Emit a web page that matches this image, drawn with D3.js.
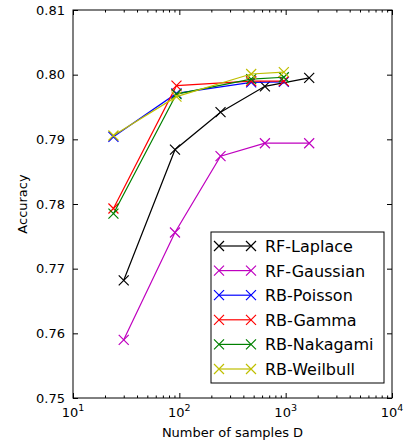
<!DOCTYPE html>
<html>
<head>
<meta charset="utf-8">
<script src="https://cdn.jsdelivr.net/npm/d3@7"></script>
<style>
  body { margin: 0; background: #fff; }
  svg text { font-family: "DejaVu Sans", sans-serif; }
</style>
</head>
<body>
<svg id="chart"></svg>
<script>
// data
const rfSamples = [30, 91, 244, 638, 1664];
const rbSamples = [24, 94, 474, 961];

const rfLaplace = [0.7682, 0.7884, 0.7942, 0.7982, 0.7995];
const rfGaussian = [0.7590, 0.7756, 0.7874, 0.7894, 0.7894];
const rbPoisson = [0.7904, 0.7971, 0.7988, 0.7989];
const rbGamma = [0.7793, 0.7983, 0.7990, 0.7990];
const rbNakagami = [0.7785, 0.7970, 0.7993, 0.7996];
const rbWeilbull = [0.7906, 0.7966, 0.8001, 0.8004];

const yTicks = [0.75, 0.76, 0.77, 0.78, 0.79, 0.80, 0.81];
const xTicks = [10, 100, 1000, 10000];

const series = [
  { name: 'RF-Laplace', xs: rfSamples, ys: rfLaplace, color: '#000000' },
  { name: 'RF-Gaussian', xs: rfSamples, ys: rfGaussian, color: '#bf00bf' },
  { name: 'RB-Poisson', xs: rbSamples, ys: rbPoisson, color: '#0000ff' },
  { name: 'RB-Gamma', xs: rbSamples, ys: rbGamma, color: '#ff0000' },
  { name: 'RB-Nakagami', xs: rbSamples, ys: rbNakagami, color: '#008000' },
  { name: 'RB-Weilbull', xs: rbSamples, ys: rbWeilbull, color: '#bfbf00' },
];

const width = 412, height = 448;
const margin = { top: 10, right: 20, bottom: 50, left: 73 };
const iw = 392 - margin.left, ih = 398 - margin.top;

const svg = d3.select('#chart').attr('width', width).attr('height', height);
const g = svg.append('g').attr('transform', `translate(${margin.left},${margin.top})`);

const x = d3.scaleLog().domain([10, 10000]).range([0, iw]);
const y = d3.scaleLinear().domain([0.75, 0.81]).range([ih, 0]);

const minor = [];
for (let e = 1; e < 4; e++) for (let k = 2; k < 10; k++) minor.push(k * Math.pow(10, e));

// ticks (inward, all four sides)
g.append('g').attr('transform', `translate(0,${ih})`)
  .call(d3.axisBottom(x).tickValues(xTicks).tickSize(-5).tickPadding(9).tickFormat(() => ''));
g.append('g').attr('transform', `translate(0,${ih})`)
  .call(d3.axisBottom(x).tickValues(minor).tickSize(-2.5).tickFormat(() => ''));
g.append('g')
  .call(d3.axisTop(x).tickValues(xTicks).tickSize(-5).tickFormat(() => ''));
g.append('g')
  .call(d3.axisTop(x).tickValues(minor).tickSize(-2.5).tickFormat(() => ''));
g.append('g')
  .call(d3.axisLeft(y).tickValues(yTicks).tickSize(-5).tickPadding(8).tickFormat(d3.format('.2f')));
g.append('g').attr('transform', `translate(${iw},0)`)
  .call(d3.axisRight(y).tickValues(yTicks).tickSize(-5).tickFormat(() => ''));

g.selectAll('.domain').remove();
g.selectAll('.tick line').attr('stroke', '#000').attr('stroke-width', 1);
g.selectAll('.tick text').attr('font-size', 13).attr('fill', '#000');

// x tick labels with exponent
const xl = g.append('g').attr('transform', `translate(0,${ih})`);
xTicks.forEach(v => {
  const t = xl.append('text')
    .attr('x', x(v)).attr('y', 19)
    .attr('text-anchor', 'middle')
    .attr('font-size', 13);
  t.append('tspan').text('10');
  t.append('tspan').attr('dy', -6).attr('font-size', 9.5).text(Math.round(Math.log10(v)));
});

// frame
g.append('rect').attr('width', iw).attr('height', ih)
  .attr('fill', 'none').attr('stroke', '#000').attr('stroke-width', 1);

const line = d3.line().x(d => x(d[0])).y(d => y(d[1]));
const ms = 5;

function cross(sel, cx, cy, color) {
  sel.append('path')
    .attr('d', `M${cx - ms},${cy - ms}L${cx + ms},${cy + ms}M${cx - ms},${cy + ms}L${cx + ms},${cy - ms}`)
    .attr('stroke', color).attr('stroke-width', 1.2).attr('fill', 'none');
}

series.forEach(s => {
  const pts = s.xs.map((v, i) => [v, s.ys[i]]);
  const sg = g.append('g');
  sg.append('path').datum(pts).attr('d', line)
    .attr('fill', 'none').attr('stroke', s.color).attr('stroke-width', 1.2);
  pts.forEach(p => cross(sg, x(p[0]), y(p[1]), s.color));
});

// legend
const lg = svg.append('g').attr('transform', 'translate(211,232)');
lg.append('rect').attr('width', 173).attr('height', 151)
  .attr('fill', '#fff').attr('stroke', '#000').attr('stroke-width', 1);
series.forEach((s, i) => {
  const ly = 14 + i * 24.6;
  lg.append('line').attr('x1', 8).attr('x2', 40).attr('y1', ly).attr('y2', ly)
    .attr('stroke', s.color).attr('stroke-width', 1.2);
  cross(lg, 8, ly, s.color);
  cross(lg, 40, ly, s.color);
  lg.append('text').attr('x', 54).attr('y', ly + 6)
    .attr('font-size', 16).attr('fill', '#000').text(s.name);
});

// axis labels
svg.append('text')
  .attr('x', margin.left + iw / 2).attr('y', 437)
  .attr('text-anchor', 'middle').attr('font-size', 13)
  .text('Number of samples D');
svg.append('text')
  .attr('transform', `translate(27,${margin.top + ih / 2}) rotate(-90)`)
  .attr('text-anchor', 'middle').attr('font-size', 13)
  .text('Accuracy');
</script>
</body>
</html>
